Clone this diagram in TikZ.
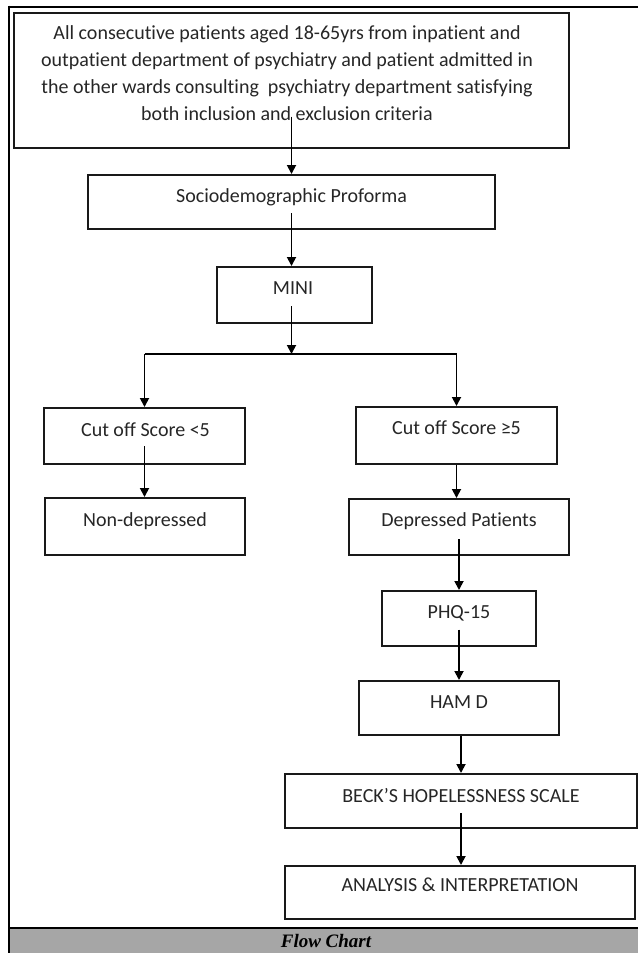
\documentclass[tikz,border=0pt]{standalone}
\usepackage{fontspec}
\setmainfont{Carlito}[Ligatures={NoCommon}]
\newfontfamily\capfont{Liberation Serif}
\usetikzlibrary{arrows.meta}
\begin{document}
\begin{tikzpicture}[x=1pt,y=-1pt,
  box/.style={draw=black!90, line width=2pt, inner sep=0pt, rectangle},
  txt/.style={inner sep=0pt, text=black!85, font=\fontsize{20}{27.2}\selectfont, align=center, anchor=base},
  arr/.style={draw=black, line width=1.8pt, -{Triangle[length=9pt,width=9pt]}},
  frameline/.style={line width=2.6pt}]
\useasboundingbox (0,0) rectangle (638,953);
% frame and caption band
\fill[black!35] (9,928) rectangle (638,953);
\draw[frameline] (9,7) -- (638,7);
\draw[frameline] (9,5.7) -- (9,953);
\draw[frameline] (9,928) -- (638,928);
\node[inner sep=0pt, font=\capfont\bfseries\itshape\fontsize{19}{22}\selectfont] (cap) at (326,941) {Flow Chart};
% boxes
\node[box, minimum width=555, minimum height=135] (b1) at (291.5,80.5) {};
\node[inner sep=0pt, text=black!85, font=\fontsize{20}{27.2}\selectfont, align=center] (b1t) at (287,73)
 {All consecutive patients aged 18-65yrs from inpatient and\\
  outpatient department of psychiatry and patient admitted in\\
  the other wards consulting\ \ psychiatry department satisfying\\
  both inclusion and exclusion criteria};
\node[box, minimum width=407, minimum height=54] (socio) at (291.5,202) {};
\node[txt] (sociot) at (291.5,202.5) {Sociodemographic Proforma};
\node[box, minimum width=155, minimum height=56] (mini) at (294,295) {};
\node[txt] (minit) at (293,294.5) {MINI};
\node[box, minimum width=201, minimum height=56] (cut1) at (144.5,436) {};
\node[txt] (cut1t) at (145.5,436.5) {Cut off Score <5};
\node[box, minimum width=201, minimum height=57] (cut2) at (456.5,435.5) {};
\node[txt] (cut2t) at (456.5,434.5) {Cut off Score ≥5};
\node[box, minimum width=200, minimum height=57] (nondep) at (145,526.5) {};
\node[txt] (nondept) at (145,526.5) {Non-depressed};
\node[box, minimum width=220, minimum height=56] (dep) at (459,527) {};
\node[txt] (dept) at (459,526.5) {Depressed Patients};
\node[box, minimum width=154, minimum height=55] (phq) at (459,618.5) {};
\node[txt] (phqt) at (459,618.5) {PHQ-15};
\node[box, minimum width=200, minimum height=54] (hamd) at (459,708) {};
\node[txt] (hamdt) at (459,708.5) {HAM D};
\node[box, minimum width=352, minimum height=54] (beck) at (461,801) {};
\node[txt] (beckt) at (461,802.5) {BECK’S HOPELESSNESS SCALE};
\node[box, minimum width=350, minimum height=53] (anal) at (460,892.5) {};
\node[txt] (analt) at (460,891.5) {ANALYSIS \& INTERPRETATION};
% connectors
\coordinate (br) at (291.5,354);
\coordinate (brL) at (cut1.north |- br);
\coordinate (brR) at (cut2.north |- br);
\draw[arr] ([yshift=-36pt]b1.center) -- (socio.north);
\draw[arr] ([yshift=-11pt]socio.center) -- (socio.center |- mini.north);
\draw[arr] ([yshift=-11pt]mini.center -| socio.center) -- (br);
\draw[line width=1.8pt] (brL) -- (brR);
\draw[arr] (brL) -- (cut1.north);
\draw[arr] (brR) -- (cut2.north);
\draw[arr] ([yshift=-10pt]cut1.center) -- (cut1.center |- nondep.north);
\draw[arr] (cut2.south) -- (cut2.south |- dep.north);
\draw[arr] ([yshift=-12pt]dep.center) -- (phq.north);
\draw[arr] ([yshift=-11pt]phq.center) -- (hamd.north);
\draw[arr] (hamd.south -| beck.center) -- (beck.north);
\draw[arr] ([yshift=-12pt]beck.center) -- (anal.north -| beck.center);
\end{tikzpicture}
\end{document}
